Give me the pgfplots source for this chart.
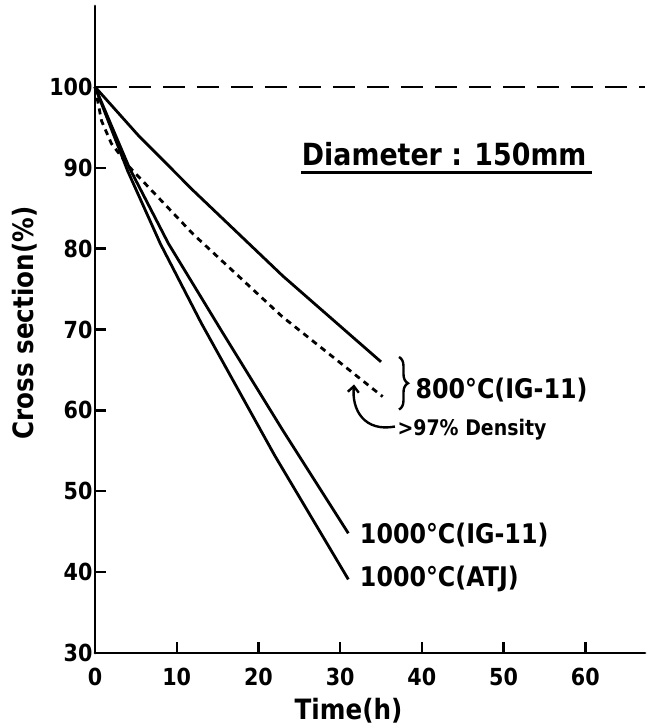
\documentclass[border=0pt]{standalone}
\usepackage{pgfplots}
\pgfplotsset{compat=1.18}
\usepackage{fontspec}
\setmainfont{DejaVu Sans}[FakeStretch=0.88]
\usetikzlibrary{arrows.meta,decorations.pathreplacing}

\newcommand\fs[1]{\fontsize{#1}{#1}\selectfont\bfseries}

\begin{document}
\begin{tikzpicture}
\begin{axis}[
  name=ax,
  width=550pt, height=647pt, scale only axis,
  xmin=0, xmax=67.3, ymin=30, ymax=110,
  axis x line*=bottom, axis y line*=left,
  axis line style={line width=2.8pt, line cap=round},
  xtick={0,10,...,60}, ytick={30,40,...,100},
  tick align=inside,
  major tick length=11pt,
  tick style={line width=2.4pt, black},
  /pgf/number format/assume math mode=true,
  ticklabel style={font=\fs{23.5}},
  xticklabel style={yshift=-12pt},
  yticklabel style={xshift=1pt},
  xlabel={Time(h)}, ylabel={Cross section(\%)},
  xlabel style={font=\fs{28}, at={(axis description cs:0.461,-0.09)}, anchor=center},
  ylabel style={font=\fs{28}, at={(axis description cs:-0.128,0.51)}, anchor=center},
  clip=false,
]
% reference level
\addplot[line width=2.4pt, black, dash pattern=on 22pt off 12pt] coordinates {(0,100) (67.3,100)};
% 800 C (IG-11)
\addplot[line width=2.8pt, black] coordinates {(0,100) (5.3,94) (12,87.2) (23,76.6) (35,66)};
% 800 C (IG-11), >97% density
\addplot[line width=2.8pt, black, dash pattern=on 6pt off 5pt] coordinates {(0,100) (0.8,95.8) (2,93) (4.2,90.1) (12,81.8) (22.9,71.6) (35.2,61.7)};
% 1000 C (IG-11)
\addplot[line width=2.8pt, black] coordinates {(0,100) (4.2,90) (9,80.6) (15.5,69.8) (23,57.5) (31,44.8)};
% 1000 C (ATJ)
\addplot[line width=2.8pt, black] coordinates {(0,100) (4,89.6) (8,80.6) (13,70.8) (22,54.4) (31,39.1)};

\node[anchor=base west, inner sep=0, font=\fs{30.5}] at (axis cs:25.3,90.3) {Diameter : 150mm};
\draw[line width=2.4pt] (axis cs:25.2,89.4) -- (axis cs:60.8,89.4);

\draw[line width=2.4pt, decorate, decoration={brace, amplitude=9pt}] (axis cs:37.2,66.6) -- (axis cs:37.2,60.1);
\node[anchor=west, inner sep=0, font=\fs{27}] at (axis cs:39.2,62.5) {800°C(IG-11)};
\node[anchor=west, inner sep=0, font=\fs{21.5}] at (axis cs:37.0,57.6) {>97\% Density};
\draw[line width=2.4pt, -{Straight Barb[length=6pt,width=11pt]}] (axis cs:36.7,58.0) .. controls (axis cs:33,57.3) and (axis cs:31.4,60) .. (axis cs:31.7,63.2);
\node[anchor=west, inner sep=0, font=\fs{27}] at (axis cs:32.4,44.6) {1000°C(IG-11)};
\node[anchor=west, inner sep=0, font=\fs{27}] at (axis cs:32.4,39.1) {1000°C(ATJ)};
\end{axis}
\path ([shift={(-95pt,-74pt)}]ax.south west) rectangle ([shift={(7pt,6pt)}]ax.north east);
\end{tikzpicture}
\end{document}
